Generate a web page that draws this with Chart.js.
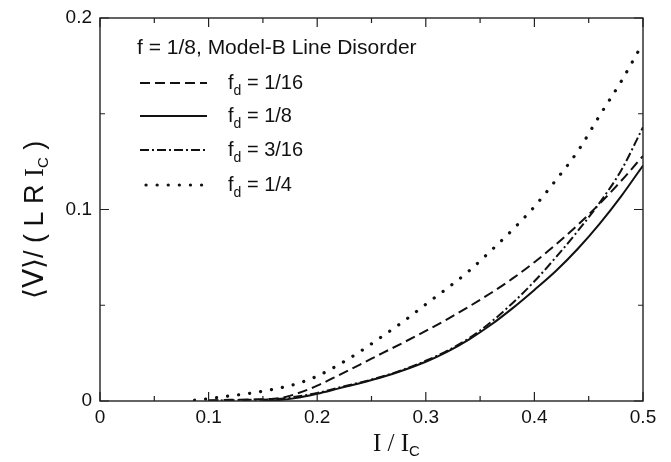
<!DOCTYPE html>
<html>
<head>
<meta charset="utf-8">
<script src="https://cdn.jsdelivr.net/npm/chart.js@4/dist/chart.umd.min.js"></script>
<style>
  html, body { margin: 0; padding: 0; background: #fff; }
  #wrap { width: 671px; height: 462px; position: relative; }
</style>
</head>
<body>
<div id="wrap"><canvas id="chart"></canvas></div>
<script>
// values (I / Ic, <V>/(L R Ic))
const xDash = [0.10, 0.12, 0.14, 0.16, 0.17, 0.18, 0.20, 0.22, 0.24, 0.26, 0.28, 0.30, 0.32, 0.34, 0.36, 0.38, 0.40, 0.42, 0.44, 0.46, 0.48, 0.50];
const yDash = [0.0003, 0.0006, 0.0008, 0.0012, 0.002, 0.0036, 0.008, 0.0135, 0.0192, 0.025, 0.0307, 0.0366, 0.0428, 0.0494, 0.0564, 0.064, 0.0725, 0.0818, 0.092, 0.103, 0.115, 0.128];

const xSolid = [0.15, 0.16, 0.18, 0.20, 0.22, 0.24, 0.26, 0.28, 0.30, 0.32, 0.34, 0.36, 0.38, 0.40, 0.42, 0.44, 0.46, 0.48, 0.50];
const ySolid = [0, 0.0003, 0.0015, 0.0038, 0.0066, 0.0094, 0.0125, 0.0162, 0.0205, 0.0258, 0.0322, 0.0398, 0.0485, 0.058, 0.068, 0.0795, 0.0925, 0.107, 0.123];

const xDashDot = [0.10, 0.12, 0.14, 0.16, 0.18, 0.20, 0.22, 0.24, 0.26, 0.28, 0.30, 0.32, 0.34, 0.36, 0.38, 0.40, 0.42, 0.44, 0.46, 0.48, 0.50];
const yDashDot = [0.0002, 0.0004, 0.0006, 0.0009, 0.0022, 0.0042, 0.007, 0.0097, 0.0128, 0.0165, 0.021, 0.0263, 0.0328, 0.0412, 0.0512, 0.0625, 0.0752, 0.0888, 0.1035, 0.1205, 0.143];

const xDot = [0.087, 0.10, 0.12, 0.14, 0.16, 0.18, 0.20, 0.22, 0.24, 0.26, 0.28, 0.30, 0.32, 0.34, 0.36, 0.38, 0.40, 0.42, 0.44, 0.46, 0.48, 0.50];
const yDot = [0.0004, 0.0012, 0.0027, 0.0042, 0.0062, 0.0088, 0.013, 0.019, 0.026, 0.0338, 0.0418, 0.0505, 0.059, 0.068, 0.0785, 0.0895, 0.1015, 0.1155, 0.1305, 0.149, 0.167, 0.187];

const seriesLabels = ["1/16", "1/8", "3/16", "1/4"];
const xTicks = [0, 0.1, 0.2, 0.3, 0.4, 0.5];
const xTickLabels = ["0", "0.1", "0.2", "0.3", "0.4", "0.5"];
const xMinor = [0.05, 0.15, 0.25, 0.35, 0.45];
const yTicks = [0, 0.1, 0.2];
const yTickLabels = ["0", "0.1", "0.2"];
const yMinor = [0.05, 0.15];
const titleText = "f = 1/8, Model-B Line Disorder";

const pts = (xs, ys) => xs.map((x, i) => ({ x, y: ys[i] }));

const SANS = '"Liberation Sans", Arial, sans-serif';
const SERIF = '"Liberation Serif", "Times New Roman", serif';

const dashes = [[10, 5], [], [9, 3, 2, 3], [0.1, 11]];

const datasets = [
    { data: pts(xDash, yDash), borderDash: dashes[0], borderWidth: 2 },
    { data: pts(xSolid, ySolid), borderDash: dashes[1], borderWidth: 2 },
    { data: pts(xDashDot, yDashDot), borderDash: dashes[2], borderWidth: 2 },
    { data: pts(xDot, yDot), borderDash: dashes[3], borderWidth: 3.2, borderCapStyle: "round" },
].map((d, i) => Object.assign({
    label: seriesLabels[i],
    borderColor: "#111",
    showLine: true,
    pointRadius: 0,
    fill: false,
    cubicInterpolationMode: "monotone",
}, d));

function drawSub(ctx, x, y, main, sub, mainFont, subFont, drop) {
    ctx.font = mainFont;
    ctx.fillText(main, x, y);
    x += ctx.measureText(main).width;
    ctx.font = subFont;
    ctx.fillText(sub, x, y + drop);
    return x + ctx.measureText(sub).width;
}

const framePlugin = {
    id: "frame",
    afterDraw(chart) {
        const { ctx, chartArea: a, scales } = chart;
        const sx = scales.x, sy = scales.y;
        ctx.save();
        ctx.strokeStyle = "#222";
        ctx.lineWidth = 1.4;
        ctx.strokeRect(a.left, a.top, a.right - a.left, a.bottom - a.top);

        // inward ticks on all four sides
        ctx.lineWidth = 1.2;
        ctx.beginPath();
        const tick = (v, len, horiz) => {
            if (horiz) {
                const px = sx.getPixelForValue(v);
                ctx.moveTo(px, a.bottom); ctx.lineTo(px, a.bottom - len);
                ctx.moveTo(px, a.top); ctx.lineTo(px, a.top + len);
            } else {
                const py = sy.getPixelForValue(v);
                ctx.moveTo(a.left, py); ctx.lineTo(a.left + len, py);
                ctx.moveTo(a.right, py); ctx.lineTo(a.right - len, py);
            }
        };
        xTicks.forEach(v => tick(v, 9, true));
        xMinor.forEach(v => tick(v, 5, true));
        yTicks.forEach(v => tick(v, 9, false));
        yMinor.forEach(v => tick(v, 5, false));
        ctx.stroke();

        // tick labels
        ctx.fillStyle = "#111";
        ctx.font = "19px " + SANS;
        ctx.textAlign = "center";
        ctx.textBaseline = "middle";
        xTicks.forEach((v, i) => ctx.fillText(xTickLabels[i], sx.getPixelForValue(v), a.bottom + 17));
        ctx.textAlign = "right";
        yTicks.forEach((v, i) => ctx.fillText(yTickLabels[i], a.left - 8, sy.getPixelForValue(v)));

        // x title: I / I_C
        ctx.textAlign = "left";
        ctx.textBaseline = "alphabetic";
        drawSub(ctx, 373, 451, "I / I", "C", "25px " + SERIF, "15px " + SANS, 5);

        // y title, rotated
        ctx.save();
        ctx.translate(43, 299);
        ctx.rotate(-Math.PI / 2);
        let x = 0;
        ctx.font = "28px " + '"DejaVu Sans", sans-serif';
        ctx.fillText("\u27E8V\u27E9", x, 0);
        x += ctx.measureText("\u27E8V\u27E9").width;
        ctx.font = "27px " + SANS;
        ctx.fillText("/ ( L R ", x, 0);
        x += ctx.measureText("/ ( L R ").width;
        x = drawSub(ctx, x, 0, "I", "C", "27px " + SERIF, "15px " + SANS, 5);
        ctx.font = "27px " + SANS;
        ctx.fillText(" )", x, 0);
        ctx.restore();

        // title and legend
        ctx.font = "21px " + SANS;
        ctx.fillText(titleText, 137, 54);
        const rowsY = [83, 116, 150, 185];
        chart.data.datasets.forEach((ds, i) => {
            const y = rowsY[i];
            ctx.save();
            ctx.strokeStyle = ds.borderColor;
            ctx.lineWidth = ds.borderWidth;
            ctx.lineCap = ds.borderCapStyle || "butt";
            ctx.setLineDash(ds.borderDash);
            ctx.beginPath();
            ctx.moveTo(i === 3 ? 146 : 140, y);
            ctx.lineTo(207, y);
            ctx.stroke();
            ctx.restore();
            const ex = drawSub(ctx, 228, y + 6, "f", "d", "20px " + SANS, "14px " + SANS, 6);
            ctx.font = "20px " + SANS;
            ctx.fillText(" = " + ds.label, ex, y + 6);
        });
        ctx.restore();
    }
};

new Chart(document.getElementById("chart"), {
    type: "scatter",
    data: { datasets },
    options: {
        responsive: true,
        maintainAspectRatio: false,
        animation: false,
        layout: { padding: { left: 100, right: 28, top: 18, bottom: 61 } },
        scales: {
            x: { type: "linear", min: 0, max: 0.5, display: false },
            y: { type: "linear", min: 0, max: 0.2, display: false },
        },
        plugins: {
            legend: { display: false },
            tooltip: { enabled: false },
        },
    },
    plugins: [framePlugin],
});
</script>
</body>
</html>
